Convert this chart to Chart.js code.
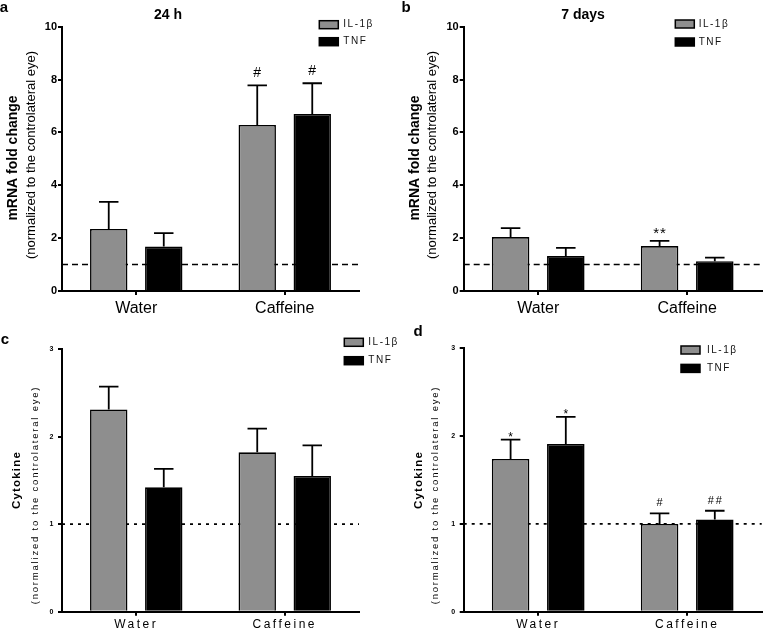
<!DOCTYPE html>
<html><head><meta charset="utf-8">
<script src="https://cdn.jsdelivr.net/npm/chart.js@4"></script>
<style>
html,body{margin:0;padding:0;background:#fff;}
#wrap{position:relative;width:764px;height:630px;overflow:hidden;background:#fff;}
#wrap canvas{position:absolute;left:0;top:0;}
</style></head><body>
<div id="wrap">
<canvas id="ca" width="764" height="630"></canvas>
<canvas id="cb" width="764" height="630"></canvas>
<canvas id="cc" width="764" height="630"></canvas>
<canvas id="cd" width="764" height="630"></canvas>
</div>
<script>
// ---------- data ----------
const categories = ['Water', 'Caffeine'];
const seriesNames = ['IL-1β', 'TNF'];

// a: mRNA fold change, 24 h
const mrna24hIL1b = [2.35, 6.28];
const mrna24hIL1bSem = [1.02, 1.50];
const mrna24hTNF = [1.68, 6.70];
const mrna24hTNFSem = [0.51, 1.16];
const mrna24hSigIL1b = ['', '#'];
const mrna24hSigTNF = ['', '#'];

// b: mRNA fold change, 7 days
const mrna7dIL1b = [2.04, 1.70];
const mrna7dIL1bSem = [0.34, 0.20];
const mrna7dTNF = [1.32, 1.13];
const mrna7dTNFSem = [0.31, 0.13];
const mrna7dSigIL1b = ['', '**'];
const mrna7dSigTNF = ['', ''];

// c: cytokine, 24 h
const cyto24hIL1b = [2.31, 1.82];
const cyto24hIL1bSem = [0.26, 0.27];
const cyto24hTNF = [1.42, 1.55];
const cyto24hTNFSem = [0.21, 0.35];
const cyto24hSigIL1b = ['', ''];
const cyto24hSigTNF = ['', ''];

// d: cytokine, 7 days
const cyto7dIL1b = [1.74, 1.00];
const cyto7dIL1bSem = [0.22, 0.12];
const cyto7dTNF = [1.91, 1.05];
const cyto7dTNFSem = [0.31, 0.10];
const cyto7dSigIL1b = ['*', '#'];
const cyto7dSigTNF = ['*', '##'];

const mrnaTicks = [0, 2, 4, 6, 8, 10];
const cytoTicks = [0, 1, 2, 3];
const referenceLevel = 1;

const panelLetters = ['a', 'b', 'c', 'd'];
const panelTitles = ['24 h', '7 days', '', ''];
const mrnaAxisTitle = 'mRNA fold change';
const cytoAxisTitle = 'Cytokine';
const axisSubtitle = '(normalized to the controlateral eye)';

// ---------- styling ----------
const FF = '"Liberation Sans", Arial, Helvetica, sans-serif';
const GRAY = '#8e8e8e';

function txt(ctx, s, x, y, font, o) {
  o = o || {};
  ctx.save();
  ctx.font = font;
  ctx.fillStyle = o.color || '#000';
  ctx.textAlign = o.align || 'center';
  ctx.textBaseline = o.baseline || 'middle';
  ctx.letterSpacing = (o.ls || 0) + 'px';
  ctx.translate(x, y);
  if (o.rot) ctx.rotate(o.rot);
  ctx.fillText(s, 0, 0);
  ctx.restore();
}

const decorPlugin = {
  id: 'decor',
  beforeDraw(chart) {
    chart.ctx.letterSpacing = (chart.options.plugins.decor.xls || 0) + 'px';
  },
  beforeDatasetsDraw(chart) {
    const o = chart.options.plugins.decor;
    const ctx = chart.ctx, y = chart.scales.y, a = chart.chartArea;
    const py = y.getPixelForValue(referenceLevel);
    ctx.save();
    ctx.strokeStyle = '#000';
    ctx.lineWidth = 1.6;
    ctx.setLineDash(o.dash);
    ctx.beginPath();
    ctx.moveTo(a.left, py);
    ctx.lineTo(a.right, py);
    ctx.stroke();
    ctx.restore();
  },
  afterDatasetsDraw(chart) {
    const o = chart.options.plugins.decor;
    const ctx = chart.ctx, y = chart.scales.y;
    chart.data.datasets.forEach((ds, di) => {
      const meta = chart.getDatasetMeta(di);
      meta.data.forEach((bar, i) => {
        const v = ds.data[i], e = ds.errors[i];
        const yTop = y.getPixelForValue(v), yErr = y.getPixelForValue(v + e);
        const hw = bar.width * 0.26;
        ctx.save();
        ctx.strokeStyle = '#000';
        ctx.lineWidth = 1.8;
        ctx.beginPath();
        ctx.moveTo(bar.x, yTop); ctx.lineTo(bar.x, yErr);
        ctx.moveTo(bar.x - hw, yErr); ctx.lineTo(bar.x + hw, yErr);
        ctx.stroke();
        ctx.restore();
        const s = ds.sig[i];
        if (s) {
          const star = s.indexOf('*') >= 0;
          const st = star ? o.star : o.hash;
          txt(ctx, s, bar.x + (st.ls || 0) / 2, yErr - st.off, st.font, {baseline: 'alphabetic', ls: st.ls || 0});
        }
      });
    });
  },
  afterDraw(chart) {
    const o = chart.options.plugins.decor;
    const ctx = chart.ctx;
    ctx.letterSpacing = '0px';
    txt(ctx, o.letter.t, o.letter.x, o.letter.y, 'bold 15px ' + FF);
    if (o.title.t) txt(ctx, o.title.t, o.title.x, o.title.y, 'bold 14px ' + FF);
    txt(ctx, o.yl1.t, o.yl1.x, o.yl1.y, o.yl1.font, {rot: -Math.PI / 2, ls: o.yl1.ls});
    txt(ctx, o.yl2.t, o.yl2.x, o.yl2.y, o.yl2.font, {rot: -Math.PI / 2, ls: o.yl2.ls});
    // legend
    const L = o.legend;
    chart.data.datasets.forEach((ds, di) => {
      const by = L.y + di * L.pitch;
      ctx.save();
      ctx.fillStyle = ds.backgroundColor;
      ctx.fillRect(L.x, by, L.w, L.h);
      ctx.strokeStyle = '#000';
      ctx.lineWidth = 1.5;
      ctx.strokeRect(L.x, by, L.w, L.h);
      ctx.restore();
      txt(ctx, ds.label, L.tx, by + L.h / 2, L.font, {align: 'left', ls: L.ls, color: '#111'});
    });
  }
};

function makeChart(id, g, d) {
  const tickVals = d.ticks;
  const xh = g.xh;
  const ctx = document.getElementById(id).getContext('2d');
  return new Chart(ctx, {
    type: 'bar',
    data: {
      labels: categories,
      datasets: [
        {label: seriesNames[0], data: d.il, errors: d.ilSem, sig: d.ilSig,
         backgroundColor: GRAY, borderColor: '#000', borderWidth: 1.6,
         categoryPercentage: 0.741, barPercentage: 0.68},
        {label: seriesNames[1], data: d.tnf, errors: d.tnfSem, sig: d.tnfSig,
         backgroundColor: '#000', borderColor: '#000', borderWidth: 1.6,
         categoryPercentage: 0.741, barPercentage: 0.68}
      ]
    },
    options: {
      responsive: false,
      animation: false,
      events: [],
      layout: {padding: {left: g.L - 50, right: 764 - g.R, top: g.T, bottom: Math.max(0, 630 - g.B - xh)}},
      scales: {
        x: {
          offset: true,
          grid: {display: true, drawOnChartArea: false, drawTicks: true, tickLength: 4, offset: false, color: '#000', lineWidth: 2},
          border: {display: true, color: '#000', width: 2},
          ticks: {color: '#000', font: {family: FF, size: g.xfs}, padding: g.xpad, maxRotation: 0, autoSkip: false},
          afterFit: s => { s.height = xh; }
        },
        y: {
          min: tickVals[0], max: tickVals[tickVals.length - 1],
          afterBuildTicks: s => { s.ticks = tickVals.map(v => ({value: v})); },
          grid: {display: true, drawOnChartArea: false, drawTicks: true, tickLength: 4, color: '#000', lineWidth: 2},
          border: {display: true, color: '#000', width: 2},
          ticks: {color: '#000', font: {family: FF, size: g.yfs, weight: 'bold'}, padding: g.ypad},
          afterFit: s => { s.width = 50; }
        }
      },
      plugins: {
        legend: {display: false},
        tooltip: {enabled: false},
        decor: g.decor
      }
    },
    plugins: [decorPlugin]
  });
}

const mrnaY1 = {font: 'bold 14px ' + FF, ls: 0};
const mrnaY2 = {font: '13px ' + FF, ls: 0};
const cytoY1 = {font: 'bold 11.5px ' + FF, ls: 1.2};
const cytoY2 = {font: '9.5px ' + FF, ls: 1.8};

makeChart('ca', {
  L: 62, R: 359, T: 26.7, B: 291, xh: 30, xfs: 16, xpad: 4, yfs: 11, ypad: 1,
  decor: {
    xls: 0, dash: [6, 4],
    letter: {t: panelLetters[0], x: 4, y: 8},
    title: {t: panelTitles[0], x: 168, y: 15},
    yl1: Object.assign({t: mrnaAxisTitle, x: 13, y: 158}, mrnaY1),
    yl2: Object.assign({t: axisSubtitle, x: 31, y: 155}, mrnaY2),
    legend: {x: 319.3, y: 20.7, w: 19, h: 8, pitch: 17, tx: 343.3, font: '10px ' + FF, ls: 1.5},
    hash: {font: '14px ' + FF, off: 8, ls: 0},
    star: {font: '15px ' + FF, off: 2.6, ls: 1}
  }
}, {ticks: mrnaTicks, il: mrna24hIL1b, ilSem: mrna24hIL1bSem, ilSig: mrna24hSigIL1b,
    tnf: mrna24hTNF, tnfSem: mrna24hTNFSem, tnfSig: mrna24hSigTNF});

makeChart('cb', {
  L: 463.7, R: 761.7, T: 26.7, B: 291, xh: 30, xfs: 16, xpad: 4, yfs: 11, ypad: 1,
  decor: {
    xls: 0, dash: [6, 4],
    letter: {t: panelLetters[1], x: 406, y: 8},
    title: {t: panelTitles[1], x: 583, y: 15},
    yl1: Object.assign({t: mrnaAxisTitle, x: 414.7, y: 158}, mrnaY1),
    yl2: Object.assign({t: axisSubtitle, x: 432.7, y: 155}, mrnaY2),
    legend: {x: 675.3, y: 20, w: 19, h: 8, pitch: 18, tx: 698.7, font: '10px ' + FF, ls: 1.5},
    hash: {font: '14px ' + FF, off: 8, ls: 0},
    star: {font: '15px ' + FF, off: 2.6, ls: 1}
  }
}, {ticks: mrnaTicks, il: mrna7dIL1b, ilSem: mrna7dIL1bSem, ilSig: mrna7dSigIL1b,
    tnf: mrna7dTNF, tnfSem: mrna7dTNFSem, tnfSig: mrna7dSigTNF});

makeChart('cc', {
  L: 62, R: 359, T: 349, B: 611.7, xh: 18.3, xfs: 12, xpad: 2, yfs: 7, ypad: 2,
  decor: {
    xls: 2.5, dash: [3, 5],
    letter: {t: panelLetters[2], x: 5, y: 339.5},
    title: {t: panelTitles[2]},
    yl1: Object.assign({t: cytoAxisTitle, x: 17, y: 480}, cytoY1),
    yl2: Object.assign({t: axisSubtitle, x: 35, y: 495}, cytoY2),
    legend: {x: 344.3, y: 338.3, w: 19, h: 8, pitch: 18.4, tx: 368.3, font: '10px ' + FF, ls: 1.5},
    hash: {font: '11px ' + FF, off: 7, ls: 2},
    star: {font: '12px ' + FF, off: -1, ls: 0}
  }
}, {ticks: cytoTicks, il: cyto24hIL1b, ilSem: cyto24hIL1bSem, ilSig: cyto24hSigIL1b,
    tnf: cyto24hTNF, tnfSem: cyto24hTNFSem, tnfSig: cyto24hSigTNF});

makeChart('cd', {
  L: 463.7, R: 761.7, T: 348.3, B: 611.7, xh: 18.3, xfs: 12, xpad: 2, yfs: 7, ypad: 2,
  decor: {
    xls: 2.5, dash: [3, 5],
    letter: {t: panelLetters[3], x: 418, y: 332},
    title: {t: panelTitles[3]},
    yl1: Object.assign({t: cytoAxisTitle, x: 419, y: 480}, cytoY1),
    yl2: Object.assign({t: axisSubtitle, x: 435, y: 495}, cytoY2),
    legend: {x: 681, y: 346, w: 19, h: 8, pitch: 18.4, tx: 707, font: '10px ' + FF, ls: 1.5},
    hash: {font: '11px ' + FF, off: 7, ls: 2},
    star: {font: '12px ' + FF, off: -1, ls: 0}
  }
}, {ticks: cytoTicks, il: cyto7dIL1b, ilSem: cyto7dIL1bSem, ilSig: cyto7dSigIL1b,
    tnf: cyto7dTNF, tnfSem: cyto7dTNFSem, tnfSig: cyto7dSigTNF});
</script>
</body></html>
